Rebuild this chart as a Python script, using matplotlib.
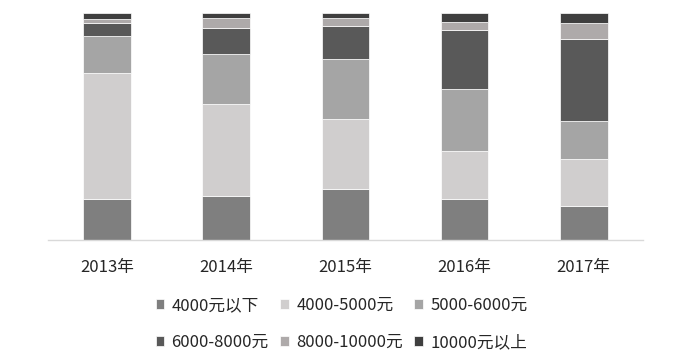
import matplotlib.pyplot as plt
import numpy as np

plt.rcParams['font.family'] = ['Noto Sans CJK SC', 'DejaVu Sans']

years = ['2013年', '2014年', '2015年', '2016年', '2017年']
labels = ['4000元以下', '4000-5000元', '5000-6000元',
          '6000-8000元', '8000-10000元', '10000元以上']
colors = ['#7f7f7f', '#d0cece', '#a5a5a5', '#595959', '#aeaaaa', '#3f3f3f']

# 各收入段占比(%)
below_4000 = [17.9, 19.3, 22.4, 18.1, 15.1]
r4000_5000 = [55.9, 40.7, 31.0, 21.2, 20.7]
r5000_6000 = [16.2, 22.1, 26.5, 27.5, 16.8]
r6000_8000 = [5.9, 11.3, 14.7, 25.9, 35.9]
r8000_10000 = [1.5, 4.7, 3.5, 3.5, 7.3]
above_10000 = [2.6, 1.9, 1.9, 3.8, 4.2]

series = [below_4000, r4000_5000, r5000_6000, r6000_8000, r8000_10000, above_10000]

fig = plt.figure(figsize=(7, 3.55), dpi=100)
ax = fig.add_axes([0.068, 0.324, 0.851, 0.6385])

x = np.arange(len(years))
bottom = np.zeros(len(years))
handles = []
for vals, lab, col in zip(series, labels, colors):
    b = ax.bar(x, vals, 0.4, bottom=bottom, color=col, label=lab,
               edgecolor='white', linewidth=0.5)
    handles.append(b)
    bottom += np.array(vals)

ax.set_xlim(-0.5, 4.5)
ax.set_ylim(0, 100)
ax.set_xticks(x)
ax.set_xticklabels(years, fontsize=12, color='#262626')
ax.tick_params(axis='x', length=0, pad=14)
ax.set_yticks([])
for s in ['top', 'left', 'right']:
    ax.spines[s].set_visible(False)
ax.spines['bottom'].set_color('#d9d9d9')
ax.spines['bottom'].set_linewidth(1)

order = [0, 3, 1, 4, 2, 5]
leg = fig.legend([handles[i] for i in order], [labels[i] for i in order],
                 ncol=3, loc='center', bbox_to_anchor=(0.488, 0.088),
                 frameon=False, fontsize=12, handlelength=0.5,
                 handleheight=0.5, handletextpad=0.45, columnspacing=0.7,
                 labelspacing=1.2)
for t in leg.get_texts():
    t.set_color('#262626')

fig.savefig('out.png', dpi=100)
